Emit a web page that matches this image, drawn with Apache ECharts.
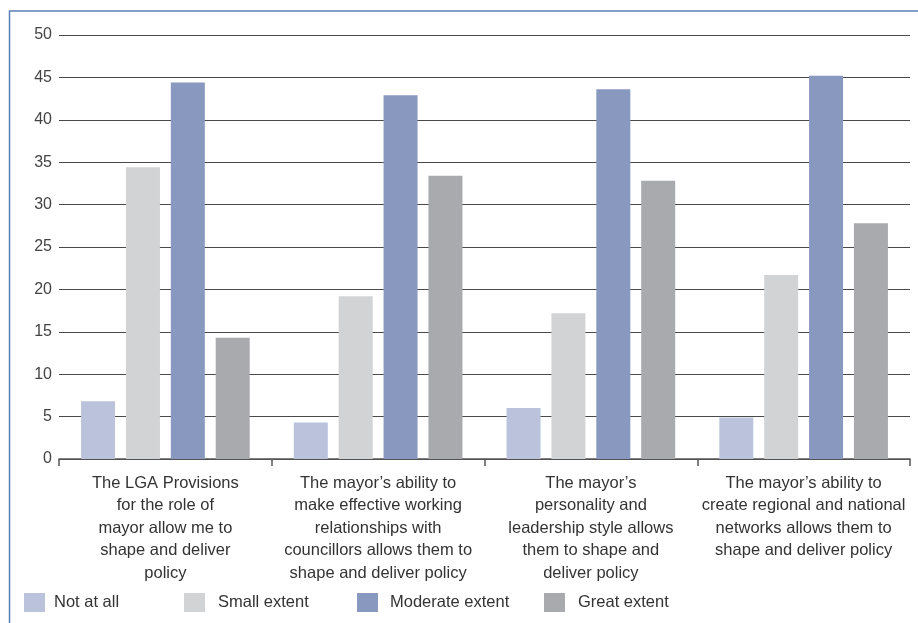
<!DOCTYPE html>
<html>
<head>
<meta charset="utf-8">
<script src="https://cdn.jsdelivr.net/npm/echarts@6/dist/echarts.min.js"></script>
<style>
  html, body { margin: 0; padding: 0; background: #fff; }
  #chart { width: 918px; height: 623px; }
</style>
</head>
<body>
<div id="chart"></div>
<script>
// categories with the line breaks as printed
const categories = [
  'The LGA Provisions\nfor the role of\nmayor allow me to\nshape and deliver\npolicy',
  'The mayor\u2019s ability to\nmake effective working\nrelationships with\ncouncillors allows them to\nshape and deliver policy',
  'The mayor\u2019s\npersonality and\nleadership style allows\nthem to shape and\ndeliver policy',
  'The mayor\u2019s ability to\ncreate regional and national\nnetworks allows them to\nshape and deliver policy'
];
const seriesNames = ['Not at all', 'Small extent', 'Moderate extent', 'Great extent'];
const notAtAll = [6.8, 4.3, 6.0, 4.9];
const smallExtent = [34.4, 19.2, 17.2, 21.7];
const moderateExtent = [44.4, 42.9, 43.6, 45.2];
const greatExtent = [14.3, 33.4, 32.8, 27.8];
const yTicks = [0, 5, 10, 15, 20, 25, 30, 35, 40, 45, 50];

const colors = ['#bbc3dc', '#d2d3d5', '#8898bf', '#a9aaae'];
const values = [notAtAll, smallExtent, moderateExtent, greatExtent];
const legendLeft = [24, 184, 357, 544];
const legendGap = [9, 13, 12, 13];
const font = '"Liberation Sans", Arial, sans-serif';

const chart = echarts.init(document.getElementById('chart'));

chart.setOption({
  animation: false,
  color: colors,
  textStyle: { fontFamily: font },
  graphic: [{
    type: 'rect',
    shape: { x: 9.5, y: 11, width: 940, height: 640 },
    style: { fill: 'none', stroke: '#5b7fb5', lineWidth: 1.5 },
    silent: true
  }],
  legend: seriesNames.map((name, i) => ({
    data: [name],
    left: legendLeft[i],
    top: 593,
    icon: 'rect',
    itemWidth: 21,
    itemHeight: 19,
    padding: 0,
    itemGap: 0,
    textStyle: { fontSize: 16.5, color: '#333', padding: [4, 0, 0, legendGap[i] - 5], fontFamily: font }
  })),
  grid: { left: 59, right: 8, top: 35, bottom: 164, containLabel: false },
  xAxis: {
    type: 'category',
    data: categories,
    axisLine: { lineStyle: { color: '#555', width: 1.5 } },
    axisTick: { show: true, length: 7, lineStyle: { color: '#555', width: 1.5 } },
    axisLabel: {
      interval: 0,
      color: '#333',
      fontSize: 16.5,
      lineHeight: 22.5,
      margin: 13,
      align: 'center',
      fontFamily: font
    }
  },
  yAxis: {
    type: 'value',
    min: yTicks[0],
    max: yTicks[yTicks.length - 1],
    interval: 5,
    axisLine: { show: false },
    axisTick: { show: false },
    axisLabel: { color: '#444', fontSize: 16, margin: 7, fontFamily: font },
    splitLine: { lineStyle: { color: '#4a4a4a', width: 1.2 } }
  },
  series: seriesNames.map((name, i) => ({
    name: name,
    type: 'bar',
    data: values[i],
    barWidth: 34,
    barGap: '32%',
    itemStyle: { color: colors[i] }
  }))
});
</script>
</body>
</html>
